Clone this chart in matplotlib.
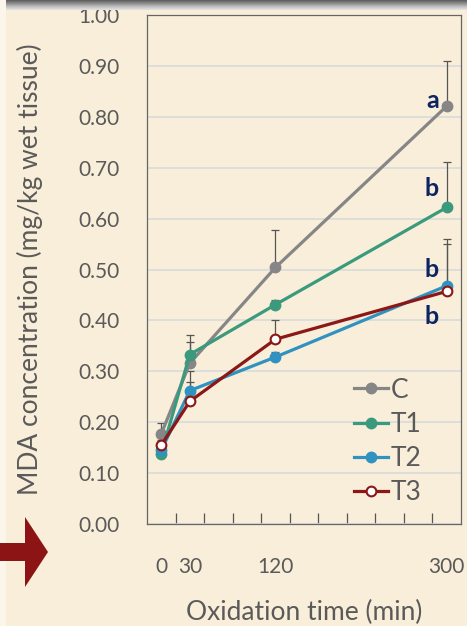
import numpy as np
import matplotlib
matplotlib.use("Agg")
import matplotlib.pyplot as plt
from matplotlib.patches import Polygon

plt.rcParams['font.family'] = ['Lato', 'DejaVu Sans']

time = [0, 30, 120, 300]
series = ['C', 'T1', 'T2', 'T3']
mda_c = [0.177, 0.316, 0.504, 0.821]
mda_t1 = [0.138, 0.333, 0.431, 0.622]
mda_t2 = [0.145, 0.262, 0.328, 0.468]
mda_t3 = [0.155, 0.241, 0.363, 0.457]
err_c = [0.022, 0.056, 0.074, 0.089]
err_t1 = [0.01, 0.024, 0.01, 0.090]
err_t2 = [0.01, 0.038, 0.01, 0.091]
err_t3 = [0.01, 0.038, 0.038, 0.094]
letters = ['a', 'b', 'b', 'b']

bg = '#f9eed9'
txt = '#5a5a5a'
colors = ['#868686', '#3b9a7d', '#2f92c0', '#8c1717']

fig = plt.figure(figsize=(4.67, 6.26), dpi=100, facecolor=bg)
ax = fig.add_axes([147 / 467, 1 - 524 / 626, 314 / 467, 509 / 626])
ax.set_facecolor(bg)

values = [mda_c, mda_t1, mda_t2, mda_t3]
errors = [err_c, err_t1, err_t2, err_t3]
for i in range(4):
    ax.errorbar(time, values[i], yerr=[np.zeros(4), errors[i]], fmt='none',
                ecolor='#555555', elinewidth=0.9, capsize=3, capthick=0.9, zorder=2)
for i in range(4):
    face = 'white' if i == 3 else colors[i]
    ax.plot(time, values[i], color=colors[i], lw=2.3, marker='o', ms=7,
            mfc=face, mec=colors[i], mew=1.5, label=series[i], zorder=3)

# significance letters next to the last points (baseline offsets)
offsets = [-0.004, 0.022, 0.018, -0.065]
for i in range(4):
    ax.text(time[-1] - 8, values[i][-1] + offsets[i], letters[i], ha='right', va='baseline',
            fontsize=18, fontweight='bold', color='#0c2462', zorder=4)

ax.set_xlim(-15, 315)
ax.set_ylim(0, 1.0)
ax.set_yticks(np.arange(0, 1.01, 0.1))
ax.set_yticklabels(['%.2f' % v for v in np.arange(0, 1.01, 0.1)])
ax.yaxis.grid(True, color='#d8dadb', lw=1.2)
ax.set_axisbelow(True)
ax.tick_params(axis='y', length=0, pad=20, labelsize=15, labelcolor=txt)

ax.set_xticks(time)
ax.set_xticklabels(['0', '30', '120', '300'])
ax.set_xticks(np.arange(15, 300, 30), minor=True)
ax.tick_params(axis='x', which='major', length=0, pad=24, labelsize=15, labelcolor=txt)
ax.tick_params(axis='x', which='minor', direction='in', length=8, color='#555555', width=0.9)

for s in ax.spines.values():
    s.set_color('#666666')
    s.set_linewidth(0.9)

ax.set_xlabel('Oxidation time (min)', fontsize=19, color=txt, labelpad=16)
ax.set_ylabel('MDA concentration (mg/kg wet tissue)', fontsize=19, color=txt)
ax.yaxis.set_label_coords(-0.33, 0.5)

leg = ax.legend(loc='lower right', frameon=False, fontsize=19, handlelength=1.3,
                handletextpad=0.1, labelspacing=0.35, bbox_to_anchor=(0.95, -0.01))
for t in leg.get_texts():
    t.set_color(txt)

# top shadow band
shade = fig.add_axes([0, 1 - 10 / 626, 1, 10 / 626])
grad = np.linspace(0, 1, 20).reshape(-1, 1)
shade.imshow(grad, aspect='auto', cmap='Greys_r', vmin=-0.6, vmax=1.4, extent=[0, 1, 0, 1])
shade.axis('off')

# left light strip
fig.patches.append(Polygon([[0, 0], [6 / 467, 0], [6 / 467, 1], [0, 1]], closed=True,
                           transform=fig.transFigure, facecolor='#fbf5ea', edgecolor='none'))

# red arrow on the left
ax_pts = [[0, 543], [25, 543], [25, 517], [48, 552], [25, 587], [25, 561], [0, 561]]
arrow = [[x / 467, 1 - y / 626] for x, y in ax_pts]
fig.patches.append(Polygon(arrow, closed=True, transform=fig.transFigure,
                           facecolor='#8c1414', edgecolor='none'))

fig.savefig('out.png', dpi=100, facecolor=bg)
